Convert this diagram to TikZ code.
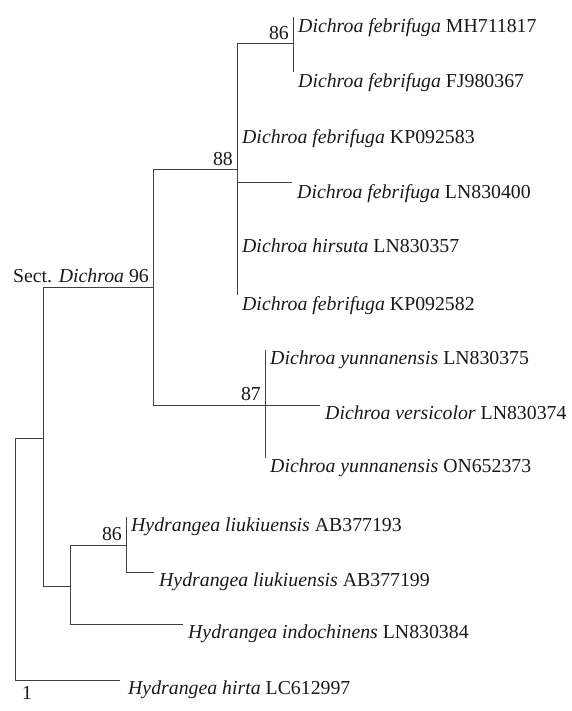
\documentclass[tikz,border=0pt]{standalone}
\usepackage{fontspec}
\setmainfont{Liberation Serif}
\usepackage{tikz}
\usetikzlibrary{positioning, calc}
\tikzset{
  taxon/.style={
    anchor=north west, inner xsep=5pt, inner ysep=1pt,
    font=\fontsize{19.8}{22}\selectfont, text=black!90
  },
  support/.style={
    anchor=south east, inner sep=4pt,
    font=\fontsize{19.8}{22}\selectfont, text=black!90
  },
  branch/.style={draw=black!75, line width=1pt},
}

\begin{document}
\begin{tikzpicture}[x=1pt, y=-1pt]
  \useasboundingbox (0,0) rectangle (571,711);

  % Internal nodes
  \coordinate (root) at (15,560);
  \coordinate (base) at (43,438);
  \coordinate (sect) at (153,287);
  \coordinate (n88) at (237,170);
  \coordinate (n86a) at (293,44);
  \coordinate (n87) at (265,405);
  \coordinate (hyd) at (70,586);
  \coordinate (n86b) at (126,545);

  % Tips
  \node[taxon] (mh) at (293,17) {\textit{Dichroa febrifuga} MH711817};
  \node[taxon] (fj) at (293,72) {\textit{Dichroa febrifuga} FJ980367};
  \node[taxon] (kp3) at (237,128) {\textit{Dichroa febrifuga} KP092583};
  \node[taxon] (ln400) at (292,183) {\textit{Dichroa febrifuga} LN830400};
  \node[taxon] (hirs) at (237,238) {\textit{Dichroa hirsuta} LN830357};
  \node[taxon] (kp2) at (237,295) {\textit{Dichroa febrifuga} KP092582};
  \node[taxon] (yun1) at (265,350) {\textit{Dichroa yunnanensis} LN830375};
  \node[taxon] (vers) at (320,405) {\textit{Dichroa versicolor} LN830374};
  \node[taxon] (yun2) at (265,458) {\textit{Dichroa yunnanensis} ON652373};
  \node[taxon] (ab3) at (126,517) {\textit{Hydrangea liukiuensis} AB377193};
  \node[taxon] (ab9) at (154,572) {\textit{Hydrangea liukiuensis} AB377199};
  \node[taxon] (indo) at (183,624) {\textit{Hydrangea indochinens} LN830384};
  \node[taxon, inner xsep=8pt] (hirta) at (120,680) {\textit{Hydrangea hirta} LC612997};

  % Support values
  \node[support] (s86a) at (n86a) {86};
  \node[support] (s88) at (n88) {88};
  \node[support] (s96) at (sect) {Sect. \textit{Dichroa} 96};
  \node[support] (s87) at (n87) {87};
  \node[support] (s86b) at (n86b) {86};
  \node[support, anchor=center, inner sep=0pt] (scale) at (27,693) {1};

  % Branches
  \draw[branch] (root) |- (base);
  \draw[branch] (root) |- (hirta.north west);
  \draw[branch] (base) |- (sect);
  \draw[branch] (base) |- (hyd);
  \draw[branch] (sect) |- (n88);
  \draw[branch] (sect) |- (n87);
  \draw[branch] (n88) |- (n86a);
  \draw[branch] (n88) |- (ln400.north west);
  \draw[branch] (n88) |- (kp2.north west);
  \draw[branch] (n86a) |- (mh.north west);
  \draw[branch] (n86a) |- (fj.north west);
  \draw[branch] (n87) |- (yun1.north west);
  \draw[branch] (n87) |- (vers.north west);
  \draw[branch] (n87) |- (yun2.north west);
  \draw[branch] (hyd) |- (n86b);
  \draw[branch] (hyd) |- (indo.north west);
  \draw[branch] (n86b) |- (ab3.north west);
  \draw[branch] (n86b) |- (ab9.north west);
\end{tikzpicture}
\end{document}
